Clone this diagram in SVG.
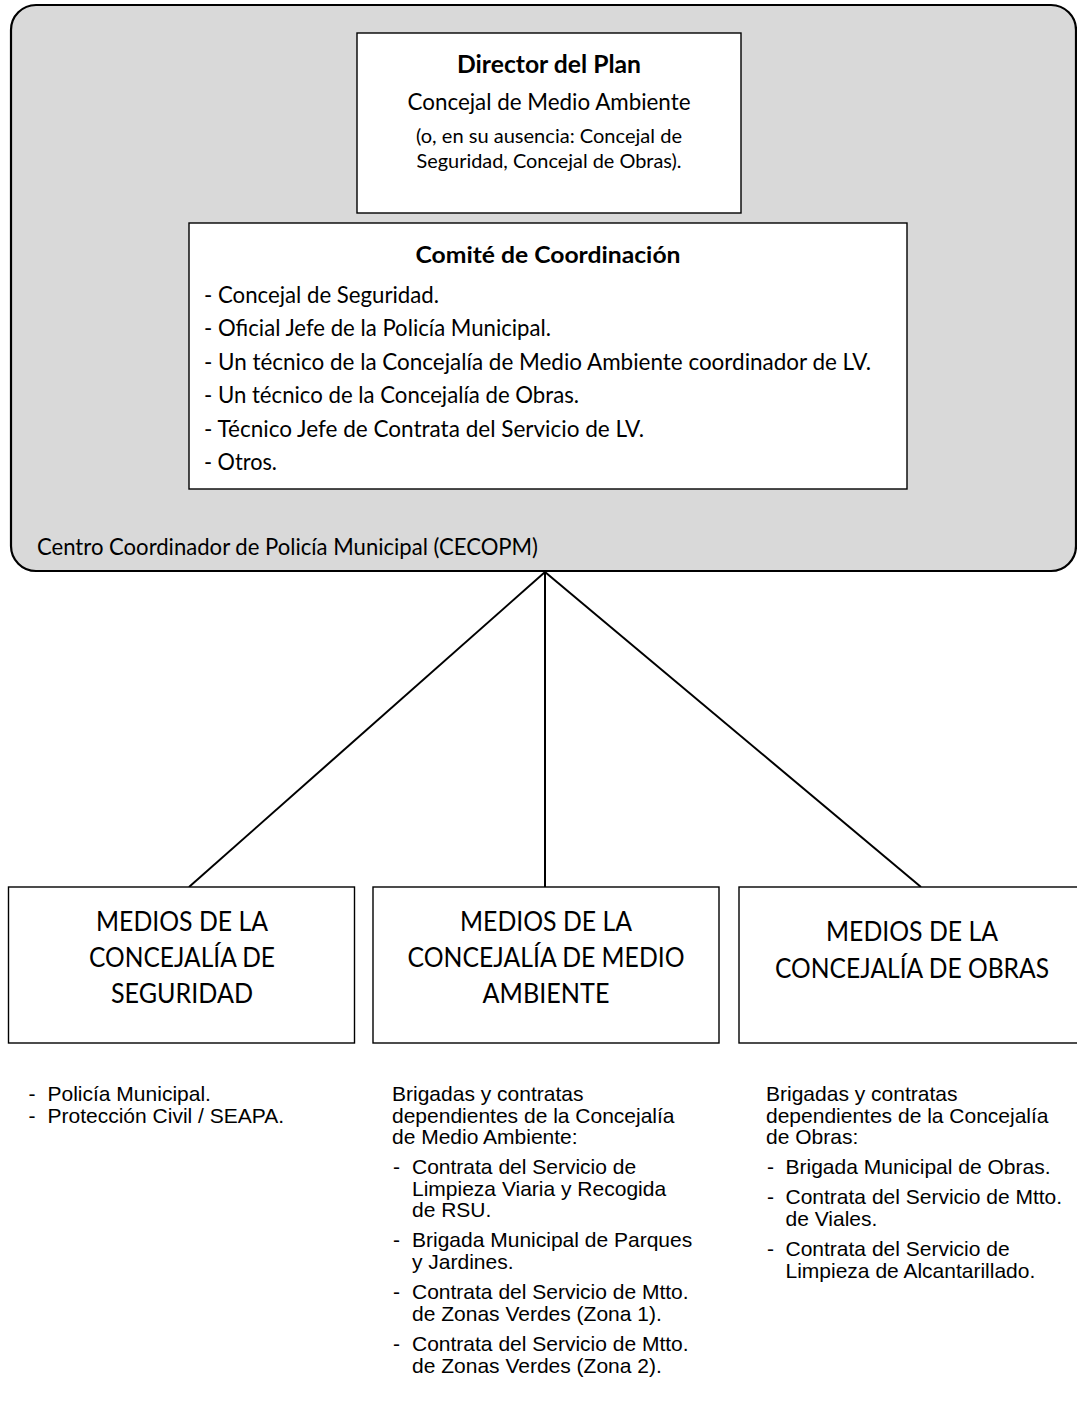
<svg xmlns="http://www.w3.org/2000/svg" width="1077" height="1402" viewBox="0 0 1077 1402">
<style>
.cal{font-family:Lato,"Liberation Sans",sans-serif;fill:#000}
.b{font-weight:bold}
.ar{font-family:"Liberation Sans",Arial,sans-serif;font-size:21px;fill:#000}
.box{fill:#fff;stroke:#000;stroke-width:1.4}
.conn{stroke:#000;stroke-width:2;fill:none}
</style>
<rect width="1077" height="1402" fill="#fff"/>
<g id="cecopm">
<rect x="11" y="5" width="1065" height="566" rx="25" ry="25" fill="#d9d9d9" stroke="#000" stroke-width="2.2"/>
<text class="cal" x="37" y="555" font-size="22.3" textLength="501" lengthAdjust="spacingAndGlyphs">Centro Coordinador de Policía Municipal (CECOPM)</text>
</g>
<g id="director">
<rect class="box" x="357" y="33" width="384" height="180"/>
<text class="cal b" x="549" y="73" font-size="24.8" text-anchor="middle" textLength="184" lengthAdjust="spacingAndGlyphs">Director del Plan</text>
<text class="cal" x="549" y="110" font-size="22.3" text-anchor="middle" textLength="283" lengthAdjust="spacingAndGlyphs">Concejal de Medio Ambiente</text>
<text class="cal" x="549" y="143" font-size="19.8" text-anchor="middle" textLength="266" lengthAdjust="spacingAndGlyphs">(o, en su ausencia: Concejal de</text>
<text class="cal" x="549" y="168" font-size="19.8" text-anchor="middle" textLength="265" lengthAdjust="spacingAndGlyphs">Seguridad, Concejal de Obras).</text>
</g>
<g id="comite">
<rect class="box" x="189" y="223" width="718" height="266"/>
<text class="cal b" x="548" y="263" font-size="23.6" text-anchor="middle" textLength="265" lengthAdjust="spacingAndGlyphs">Comité de Coordinación</text>
<text class="cal" x="204" y="303" font-size="22.3" textLength="235" lengthAdjust="spacingAndGlyphs">- Concejal de Seguridad.</text>
<text class="cal" x="204" y="336" font-size="22.3" textLength="347" lengthAdjust="spacingAndGlyphs">- Oficial Jefe de la Policía Municipal.</text>
<text class="cal" x="204" y="369.5" font-size="22.3" textLength="667" lengthAdjust="spacingAndGlyphs">- Un técnico de la Concejalía de Medio Ambiente coordinador de LV.</text>
<text class="cal" x="204" y="403" font-size="22.3" textLength="375" lengthAdjust="spacingAndGlyphs">- Un técnico de la Concejalía de Obras.</text>
<text class="cal" x="204" y="436.5" font-size="22.3" textLength="440" lengthAdjust="spacingAndGlyphs">- Técnico Jefe de Contrata del Servicio de LV.</text>
<text class="cal" x="204" y="470" font-size="22.3" textLength="73" lengthAdjust="spacingAndGlyphs">- Otros.</text>
</g>
<g id="connectors">
<line class="conn" x1="545" y1="572" x2="189" y2="887"/>
<line class="conn" x1="545" y1="572" x2="545" y2="887"/>
<line class="conn" x1="545" y1="572" x2="921" y2="887"/>
</g>
<g id="seguridad">
<rect class="box" x="8.5" y="887" width="346" height="156"/>
<text class="cal" x="182" y="931" font-size="27.2" text-anchor="middle" textLength="172" lengthAdjust="spacingAndGlyphs">MEDIOS DE LA</text>
<text class="cal" x="182" y="967" font-size="27.2" text-anchor="middle" textLength="186" lengthAdjust="spacingAndGlyphs">CONCEJALÍA DE</text>
<text class="cal" x="182" y="1003" font-size="27.2" text-anchor="middle" textLength="142" lengthAdjust="spacingAndGlyphs">SEGURIDAD</text>
</g>
<g id="medioambiente">
<rect class="box" x="373" y="887" width="346" height="156"/>
<text class="cal" x="546" y="931" font-size="27.2" text-anchor="middle" textLength="172" lengthAdjust="spacingAndGlyphs">MEDIOS DE LA</text>
<text class="cal" x="546" y="967" font-size="27.2" text-anchor="middle" textLength="277" lengthAdjust="spacingAndGlyphs">CONCEJALÍA DE MEDIO</text>
<text class="cal" x="546" y="1003" font-size="27.2" text-anchor="middle" textLength="127" lengthAdjust="spacingAndGlyphs">AMBIENTE</text>
</g>
<g id="obras">
<rect class="box" x="739" y="887" width="346" height="156"/>
<text class="cal" x="912" y="941" font-size="27.2" text-anchor="middle" textLength="172" lengthAdjust="spacingAndGlyphs">MEDIOS DE LA</text>
<text class="cal" x="912" y="978" font-size="27.2" text-anchor="middle" textLength="274" lengthAdjust="spacingAndGlyphs">CONCEJALÍA DE OBRAS</text>
</g>
<g id="lista-seguridad" class="ar">
<text x="28.5" y="1101">-</text><text x="47.5" y="1101">Policía Municipal.</text>
<text x="28.5" y="1123">-</text><text x="47.5" y="1123">Protección Civil / SEAPA.</text>
</g>
<g id="lista-medioambiente" class="ar">
<text x="392" y="1101">Brigadas y contratas</text>
<text x="392" y="1122.5">dependientes de la Concejalía</text>
<text x="392" y="1144">de Medio Ambiente:</text>
<text x="393" y="1174">-</text><text x="412" y="1174">Contrata del Servicio de</text>
<text x="412" y="1195.5">Limpieza Viaria y Recogida</text>
<text x="412" y="1217">de RSU.</text>
<text x="393" y="1247">-</text><text x="412" y="1247">Brigada Municipal de Parques</text>
<text x="412" y="1268.5">y Jardines.</text>
<text x="393" y="1299">-</text><text x="412" y="1299">Contrata del Servicio de Mtto.</text>
<text x="412" y="1320.5">de Zonas Verdes (Zona 1).</text>
<text x="393" y="1351">-</text><text x="412" y="1351">Contrata del Servicio de Mtto.</text>
<text x="412" y="1372.5">de Zonas Verdes (Zona 2).</text>
</g>
<g id="lista-obras" class="ar">
<text x="766" y="1101">Brigadas y contratas</text>
<text x="766" y="1122.5">dependientes de la Concejalía</text>
<text x="766" y="1144">de Obras:</text>
<text x="767" y="1174">-</text><text x="785.5" y="1174">Brigada Municipal de Obras.</text>
<text x="767" y="1204">-</text><text x="785.5" y="1204">Contrata del Servicio de Mtto.</text>
<text x="785.5" y="1225.5">de Viales.</text>
<text x="767" y="1256">-</text><text x="785.5" y="1256">Contrata del Servicio de</text>
<text x="785.5" y="1277.5">Limpieza de Alcantarillado.</text>
</g>
</svg>
